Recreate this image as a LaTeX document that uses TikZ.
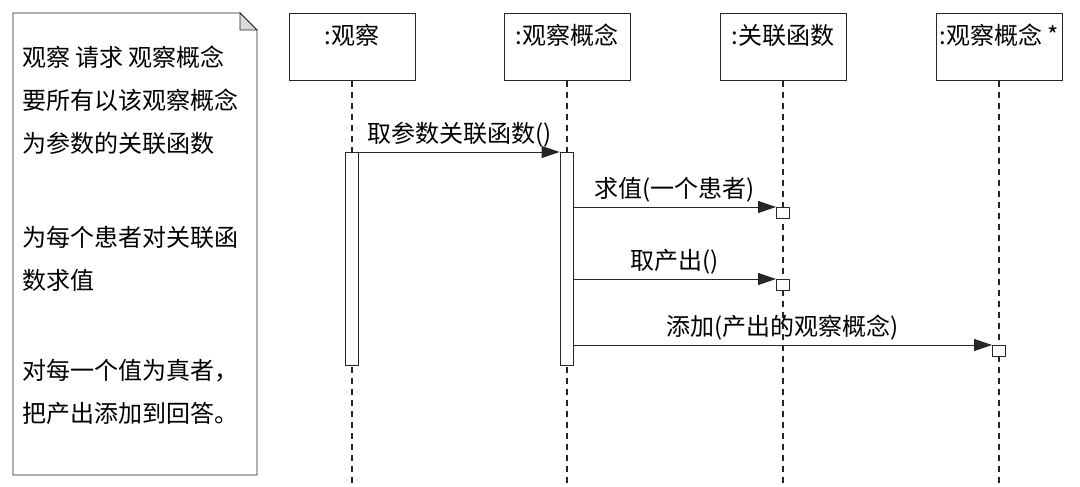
\documentclass[tikz,border=0pt]{standalone}
\usepackage{fontspec}
\setmainfont{Noto Sans CJK SC}
\usetikzlibrary{arrows.meta}

\begin{document}
\begin{tikzpicture}[x=1pt, y=-1pt,
		every node/.style = {font=\fontsize{24}{43}\selectfont},
		notetext/.style = {anchor=base west, align=left, inner sep=0pt},
		objbox/.style = {draw=black!85, line width=0.9pt, fill=white,
				minimum width=126pt, minimum height=67pt, anchor=north},
		objname/.style = {anchor=center, yshift=-22pt, inner sep=0pt},
		lifeline/.style = {draw=black!85, line width=1.3pt, dash pattern=on 6pt off 5pt},
		actbar/.style = {draw=black!85, line width=0.9pt, fill=white,
				minimum width=13pt, minimum height=213pt, inner sep=0pt, anchor=north},
		retbox/.style = {draw=black!85, line width=0.9pt, fill=white,
				minimum width=13pt, minimum height=11pt, inner sep=0pt, anchor=north},
		msg/.style = {draw=black!85, line width=0.9pt, -{Triangle[length=18pt, width=12pt]}},
		msglabel/.style = {above, inner sep=4pt},
		scale=1
	]

	\useasboundingbox (0,0) rectangle (1080,487);

	% note on the left
	\draw[black!85, line width=0.9pt, fill=white]
	(13,13) -- (240,13) -- (257,30) -- (257,475) -- (13,475) -- cycle;
	\draw[black!85, line width=0.9pt, fill=black!15] (240,13) -- (257,30) -- (240,30) -- cycle;

	\node[notetext] (noteA) at (22,152) {观察 请求 观察概念\\要所有以该观察概念\\为参数的关联函数};
	\node[notetext] (noteB) at (22,289) {为每个患者对关联函\\数求值};
	\node[notetext] (noteC) at (22,422) {对每一个值为真者，\\把产出添加到回答。};

	% objects
	\node[objbox, label={[objname]north::观察}] (obs) at (352,13) {};
	\node[objbox, label={[objname]north::观察概念}] (con) at (567,13) {};
	\node[objbox, label={[objname]north::关联函数}] (fun) at (783,13) {};
	\node[objbox, label={[objname]north::观察概念 *}] (many) at (999,13) {};

	% lifelines
	\draw[lifeline] (obs.south) -- (obs.south |- 0,487);
	\draw[lifeline] (con.south) -- (con.south |- 0,487);
	\draw[lifeline] (fun.south) -- (fun.south |- 0,487);
	\draw[lifeline] (many.south) -- (many.south |- 0,487);

	% activations
	\node[actbar] (actObs) at (352,152) {};
	\node[actbar] (actCon) at (566.5,152) {};
	\node[retbox] (funA) at (783,207) {};
	\node[retbox] (funB) at (783,279) {};
	\node[retbox] (manyA) at (999,345) {};

	% messages
	\draw[msg] (actObs.north east) -- node[msglabel] {取参数关联函数()} (actCon.north west);
	\draw[msg] (actCon.east |- funA.north west) -- node[msglabel] {求值(一个患者)} (funA.north west);
	\draw[msg] (actCon.east |- funB.north west) -- node[msglabel] {取产出()} (funB.north west);
	\draw[msg] (actCon.east |- manyA.north west) -- node[msglabel] {添加(产出的观察概念)} (manyA.north west);
\end{tikzpicture}
\end{document}
